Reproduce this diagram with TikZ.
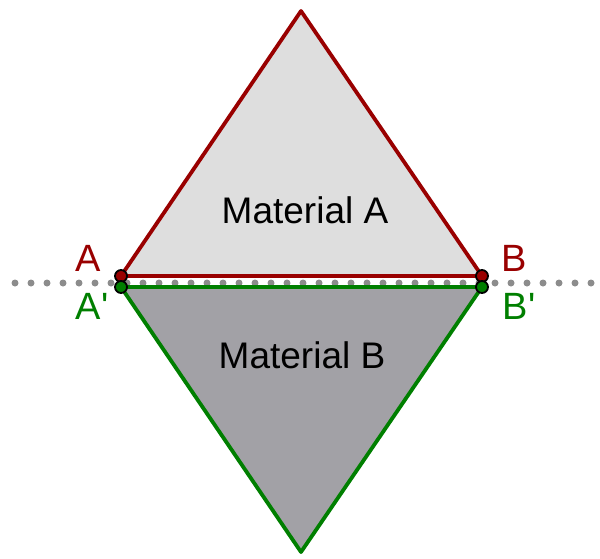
\documentclass[tikz,border=0pt]{standalone}
\usepackage{fontspec}
\setmainfont{Liberation Sans}[Ligatures=TeXOff]
\definecolor{redA}{HTML}{990000}
\definecolor{greenB}{HTML}{007F00}
\definecolor{fillA}{HTML}{DEDEDE}
\definecolor{fillB}{HTML}{A2A1A6}
\definecolor{dotgray}{HTML}{8C8C8C}
\begin{document}
\begin{tikzpicture}[x=1pt,y=-1pt,
  edge/.style={line width=3.8pt, line join=round},
  pt/.style={circle, draw=black, line width=1.8pt, minimum size=12pt, inner sep=0pt},
  lbl/.style={font=\fontsize{38}{40}\selectfont, inner sep=0pt},
  mat/.style={font=\fontsize{37}{40}\selectfont, inner sep=0pt}]
\useasboundingbox (0,0) rectangle (600,558);
\coordinate (L) at (15,283);
\coordinate (R) at (595,283);
\draw[dotgray, line width=7pt, line cap=round, dash pattern=on 0pt off 16pt] (L) -- (R);
\coordinate (T) at (301,11);
\coordinate (Bot) at (301,552);
\coordinate (Ac) at (121,276);
\coordinate (Bc) at (482,276);
\coordinate (Apc) at (121,287);
\coordinate (Bpc) at (482,287);
\filldraw[fill=fillB, draw=greenB, edge] (Apc) -- (Bpc) -- (Bot) -- cycle;
\filldraw[fill=fillA, draw=redA, edge] (Ac) -- (Bc) -- (T) -- cycle;
\node[pt, fill=redA] (A) at (Ac) {};
\node[pt, fill=redA] (B) at (Bc) {};
\node[pt, fill=greenB] (Ap) at (Apc) {};
\node[pt, fill=greenB] (Bp) at (Bpc) {};
\node[lbl, text=redA] (la) at (88,258) {A};
\node[lbl, text=greenB] (lap) at (92,306) {A'};
\node[lbl, text=redA] (lb) at (514,258) {B};
\node[lbl, text=greenB] (lbp) at (519,306) {B'};
\node[mat] (ma) at (305,210) {Material A};
\node[mat] (mb) at (302,355) {Material B};
\end{tikzpicture}
\end{document}
